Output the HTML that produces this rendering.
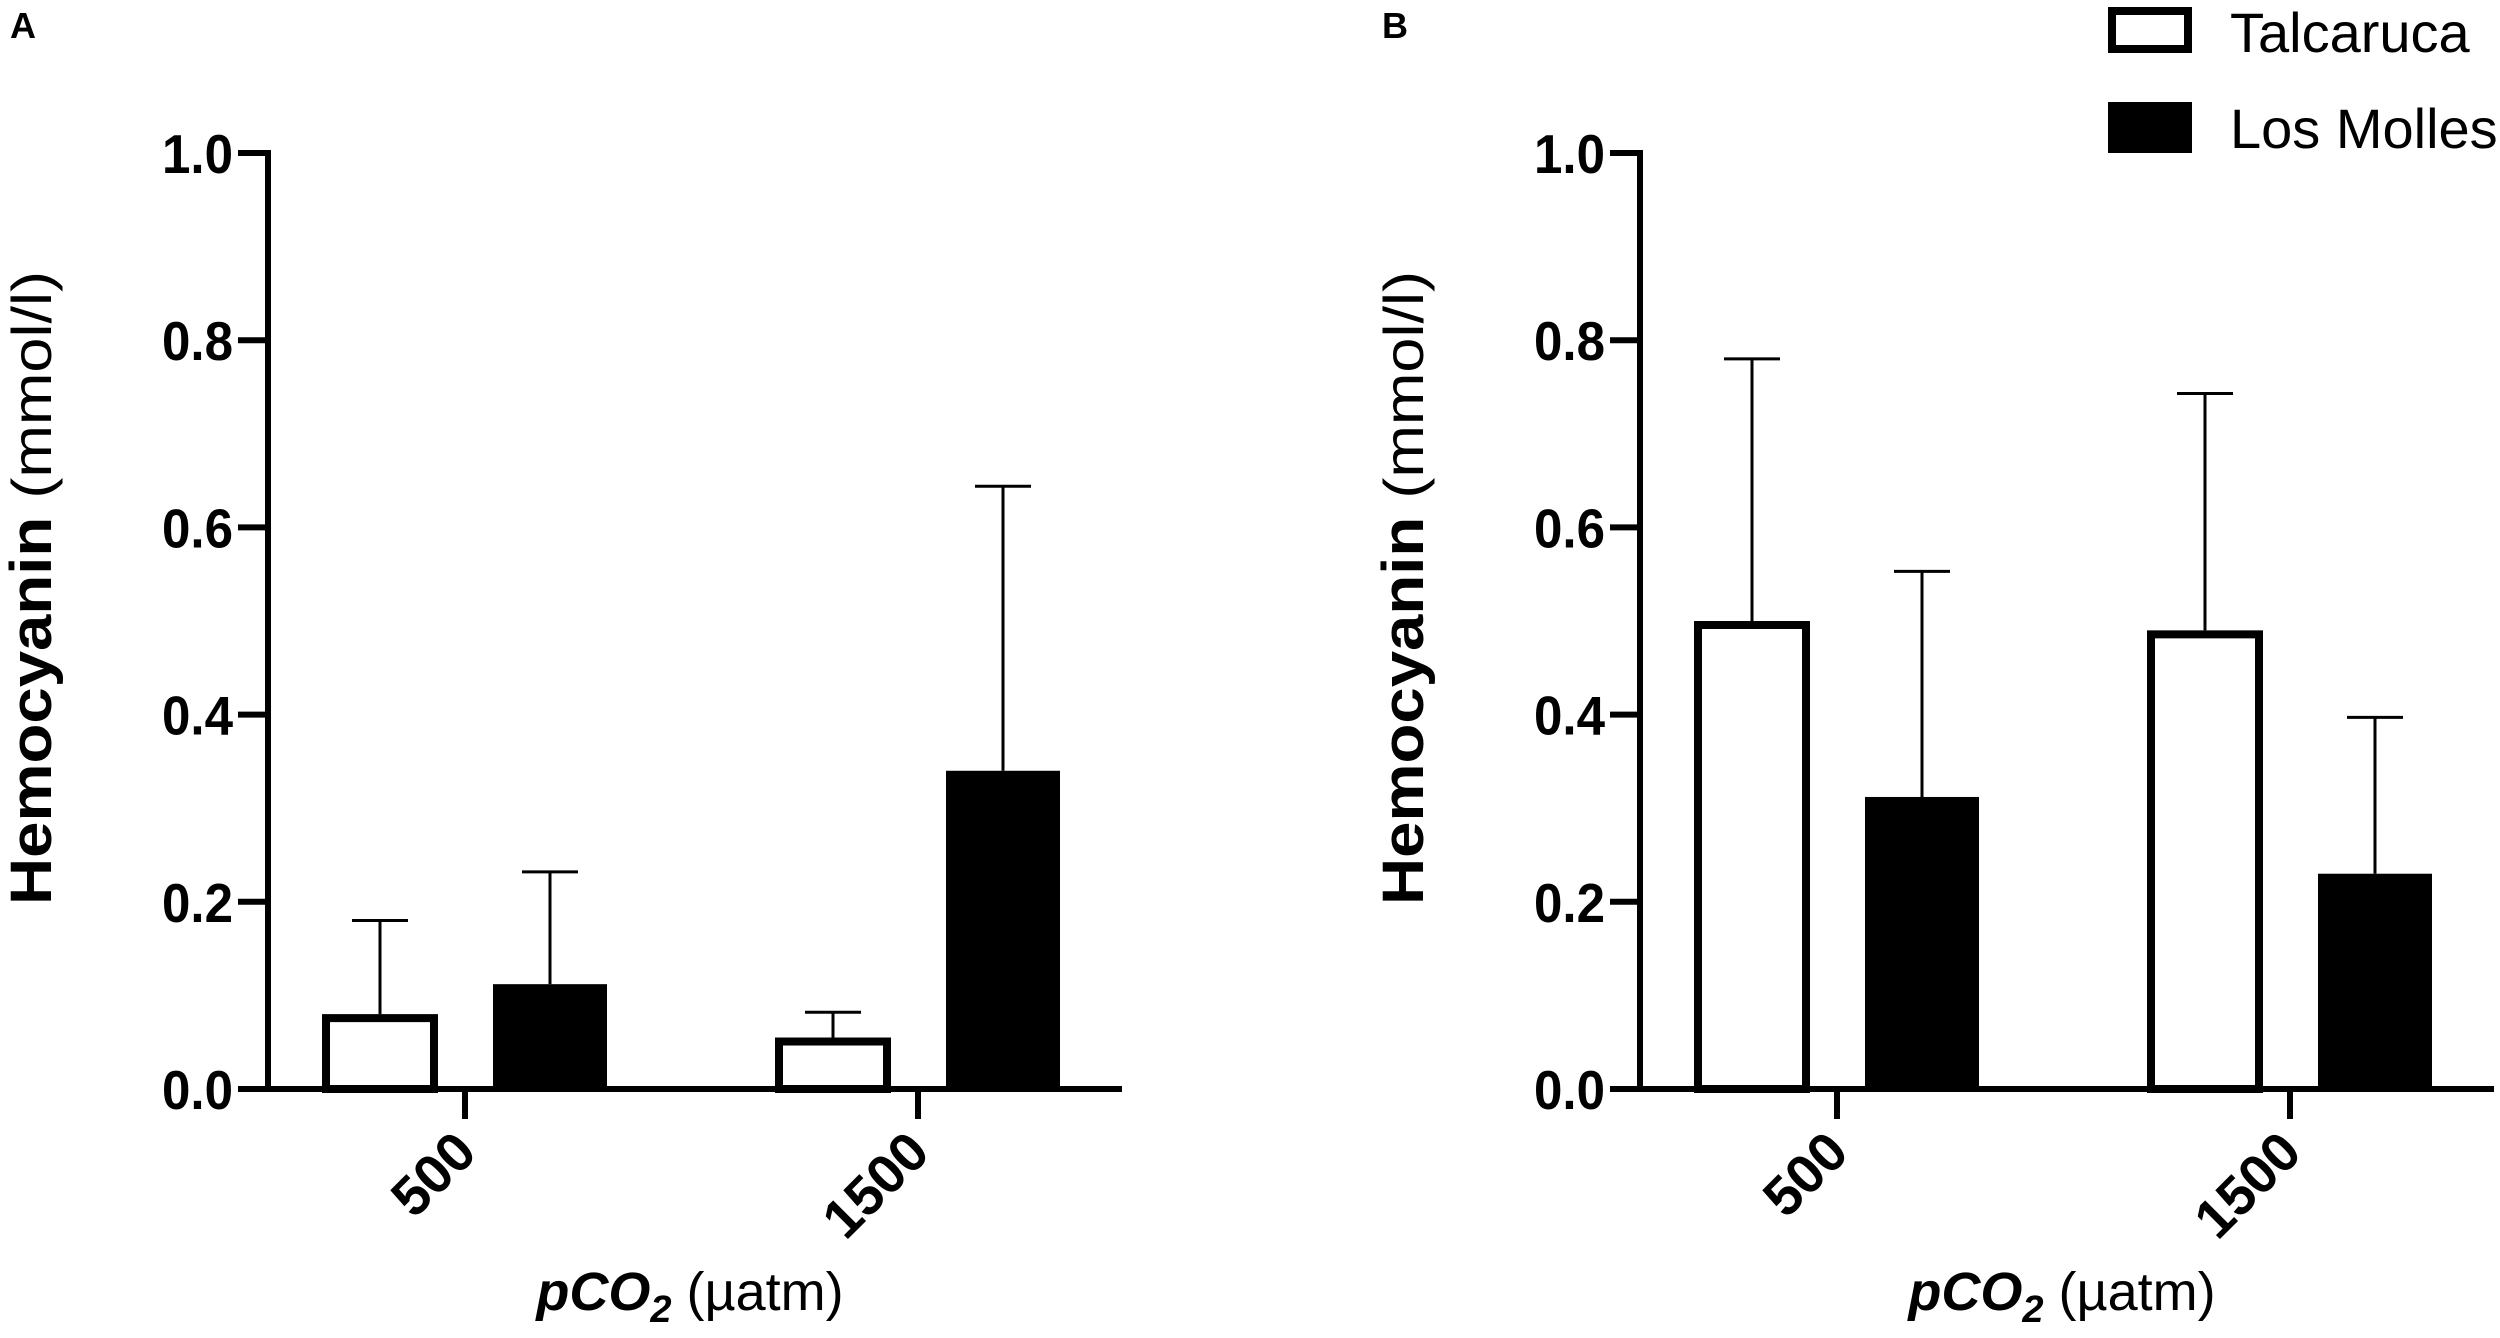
<!DOCTYPE html>
<html><head><meta charset="utf-8"><style>
body{margin:0;background:#fff;}
svg text{font-family:"Liberation Sans",Arial,sans-serif;}
</style></head><body>
<svg id="chart" width="2500" height="1333" viewBox="0 0 2500 1333" xmlns="http://www.w3.org/2000/svg">
<rect width="2500" height="1333" fill="#fff"/>
</svg>
<script>
const categories = ["500", "1500"];
const series = ["Talcaruca", "Los Molles"];
const aTalcaruca = [0.080, 0.055];
const aTalcarucaErr = [0.180, 0.082];
const aLosMolles = [0.112, 0.340];
const aLosMollesErr = [0.232, 0.644];
const bTalcaruca = [0.500, 0.490];
const bTalcarucaErr = [0.780, 0.743];
const bLosMolles = [0.312, 0.230];
const bLosMollesErr = [0.553, 0.397];
const yTicks = [0, 0.2, 0.4, 0.6, 0.8, 1.0];
const yTickLabels = ["0.0", "0.2", "0.4", "0.6", "0.8", "1.0"];

const NS = "http://www.w3.org/2000/svg";
const svg = document.getElementById("chart");
function mk(tag, attrs, parent, text) {
  const e = document.createElementNS(NS, tag);
  for (const k in attrs) e.setAttribute(k, attrs[k]);
  if (text !== undefined) e.textContent = text;
  (parent || svg).appendChild(e);
  return e;
}

function panel(letter, ox, tal, talErr, mol, molErr) {
  const g = mk("g", {});
  
  
  const axisX = ox + 268, y0 = 1089, y1 = 153, xEnd = ox + 1122;
  const yScale = v => y0 - (y0 - y1) * v;
  const catX = i => ox + 465 + i * 453;
  const off = 85, bw = 108;

  const lt = mk("text", {x: ox + 10, y: 38, "font-size": 36, "font-weight": "bold"}, g, letter);
  
  

  for (let i = 0; i < categories.length; i++) {
    const sets = [[tal[i], talErr[i], -off, false], [mol[i], molErr[i], off, true]];
    sets.forEach(([v, e, dx, filled], si) => {
      const cx = catX(i) + dx;
      const el = mk("line", {x1: cx, x2: cx, y1: yScale(v), y2: yScale(e), stroke: "#000", "stroke-width": 3}, g);
      
      
      const cap = mk("line", {x1: cx - 28, x2: cx + 28, y1: yScale(e), y2: yScale(e), stroke: "#000", "stroke-width": 3}, g);
      
      
      let r;
      if (filled) {
        r = mk("rect", {x: cx - bw / 2 - 3, y: yScale(v), width: bw + 6, height: y0 - yScale(v), fill: "#000"}, g);
      } else {
        r = mk("rect", {x: cx - bw / 2, y: yScale(v) + 4, width: bw, height: y0 - yScale(v) - 4, fill: "#fff", stroke: "#000", "stroke-width": 8}, g);
      }
      
      
    });
  }

  const ya = mk("line", {x1: axisX, x2: axisX, y1: y1 - 3, y2: y0 + 3, stroke: "#000", "stroke-width": 6}, g);
  
  
  const xa = mk("line", {x1: axisX - 3, x2: xEnd, y1: y0, y2: y0, stroke: "#000", "stroke-width": 6}, g);
  
  

  yTicks.forEach((t, k) => {
    const y = yScale(t);
    const tl = mk("line", {x1: axisX - 30, x2: axisX, y1: y, y2: y, stroke: "#000", "stroke-width": 6}, g);
    
    
    const tx = mk("text", {x: axisX - 35, y: y + 20, "font-size": 55, "font-weight": "bold", "text-anchor": "end", textLength: 71, lengthAdjust: "spacingAndGlyphs"}, g, yTickLabels[k]);
    
    
  });

  categories.forEach((c, i) => {
    const x = catX(i);
    const tl = mk("line", {x1: x, x2: x, y1: y0, y2: y0 + 30, stroke: "#000", "stroke-width": 6}, g);
    
    
    const tx = mk("text", {x: x + 14, y: y0 + 66, "font-size": 55, "font-weight": "bold", "text-anchor": "end", transform: `rotate(-45 ${x + 14} ${y0 + 66})`}, g, c);
    
    
  });

  const yt = mk("text", {x: 0, y: 0, "font-size": 56, "text-anchor": "middle", textLength: 634, lengthAdjust: "spacingAndGlyphs", transform: `translate(${ox + 51} 588) rotate(-90)`}, g);
  
  
  mk("tspan", {"font-weight": "bold", "font-size": 58}, yt, "Hemocyanin ");
  mk("tspan", {}, yt, "(mmol/l)");

  const xt = mk("text", {x: ox + 690, y: 1310, "font-size": 54, "text-anchor": "middle"}, g);
  
  
  mk("tspan", {"font-weight": "bold", "font-style": "italic"}, xt, "pCO");
  mk("tspan", {"font-weight": "bold", "font-style": "italic", "font-size": 38, dy: 12}, xt, "2");
  mk("tspan", {dy: -12}, xt, " (µatm)");
}

panel("A", 0, aTalcaruca, aTalcarucaErr, aLosMolles, aLosMollesErr);
panel("B", 1372, bTalcaruca, bTalcarucaErr, bLosMolles, bLosMollesErr);

const lg = mk("g", {});


const l1 = mk("rect", {x: 2112, y: 11, width: 76, height: 38, fill: "#fff", stroke: "#000", "stroke-width": 8}, lg);


const t1 = mk("text", {x: 2230, y: 52, "font-size": 56}, lg, series[0]);


const l2 = mk("rect", {x: 2108, y: 102, width: 84, height: 51, fill: "#000"}, lg);


const t2 = mk("text", {x: 2230, y: 148, "font-size": 56}, lg, series[1]);


</script>
</body></html>
